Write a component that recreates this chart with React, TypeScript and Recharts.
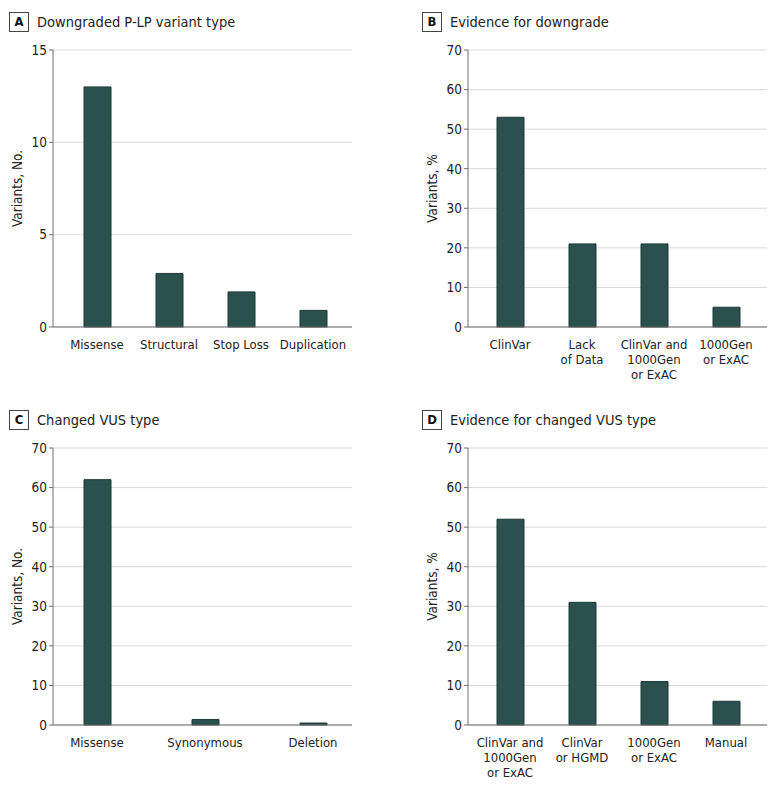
import React from "react";
import { BarChart, Bar, XAxis, YAxis, CartesianGrid } from "recharts";

// Panel A: downgraded P-LP variant type
const typeCatsA = ["Missense", "Structural", "Stop Loss", "Duplication"];
const typeCountsA = [13, 2.9, 1.9, 0.9];
const ticksA = [0, 5, 10, 15];

// Panel B: evidence for downgrade
const evidenceCatsB = ["ClinVar", "Lack\nof Data", "ClinVar and\n1000Gen\nor ExAC", "1000Gen\nor ExAC"];
const evidencePctB = [53, 21, 21, 5];

// Panel C: changed VUS type
const typeCatsC = ["Missense", "Synonymous", "Deletion"];
const typeCountsC = [62, 1.4, 0.5];

// Panel D: evidence for changed VUS type
const evidenceCatsD = ["ClinVar and\n1000Gen\nor ExAC", "ClinVar\nor HGMD", "1000Gen\nor ExAC", "Manual"];
const evidencePctD = [52, 31, 11, 6];

const ticks70 = [0, 10, 20, 30, 40, 50, 60, 70];

const FONT = '"DejaVu Sans Condensed", "DejaVu Sans", sans-serif';
const BAR_FILL = "#2b514f";
const BAR_STROKE = "#1d3937";
const AXIS = "#6f6f6f";
const GRID = "#d9d9d9";

const MultiLineTick = (props: any) => {
  const { x, y, payload } = props;
  const lines = String(payload.value).split("\n");
  return (
    <g transform={`translate(${x},${y})`}>
      <text textAnchor="middle" fill="#222" fontSize={13} fontFamily={FONT}>
        {lines.map((l, i) => (
          <tspan key={i} x={0} dy={i === 0 ? 14 : 15}>
            {l}
          </tspan>
        ))}
      </text>
    </g>
  );
};

interface PanelProps {
  letter: string;
  title: string;
  left: number;
  top: number;
  boxX: number;
  cats: string[];
  values: number[];
  ticks: number[];
  yLabel: string;
  padding: { left: number; right: number };
}

const Panel: React.FC<PanelProps> = ({ letter, title, left, top, boxX, cats, values, ticks, yLabel, padding }) => {
  const data = cats.map((c, i) => ({ name: c, value: values[i] }));
  return (
    <div style={{ position: "absolute", left, top, width: 390, height: 390 }}>
      <div
        style={{
          position: "absolute",
          left: boxX,
          top: 12,
          width: 18,
          height: 18,
          border: "1px solid #444",
          fontFamily: FONT,
          fontWeight: "bold",
          fontSize: 13,
          lineHeight: "18px",
          textAlign: "center",
          color: "#111",
        }}
      >
        {letter}
      </div>
      <div
        style={{
          position: "absolute",
          left: boxX + 28,
          top: 11,
          fontFamily: FONT,
          fontSize: 14.5,
          lineHeight: "22px",
          color: "#222",
          whiteSpace: "nowrap",
        }}
      >
        {title}
      </div>
      <div style={{ position: "absolute", left: 0, top: 0 }}>
        <BarChart
          width={390}
          height={390}
          data={data}
          margin={{ top: 50, right: 38, left: 13, bottom: 3 }}
          barSize={27}
        >
          <CartesianGrid vertical={false} stroke={GRID} />
          <XAxis
            dataKey="name"
            interval={0}
            tickLine={false}
            axisLine={{ stroke: AXIS }}
            tick={<MultiLineTick />}
            height={60}
            padding={padding}
          />
          <YAxis
            width={40}
            domain={[ticks[0], ticks[ticks.length - 1]]}
            ticks={ticks}
            interval={0}
            tickSize={4}
            tickMargin={2}
            tickLine={{ stroke: AXIS }}
            axisLine={{ stroke: AXIS }}
            tick={{ fill: "#222", fontSize: 13.5, fontFamily: FONT }}
            label={{
              value: yLabel,
              angle: -90,
              position: "insideLeft",
              offset: 4,
              style: { textAnchor: "middle", fill: "#222", fontSize: 13.5, fontFamily: FONT },
            }}
          />
          <Bar dataKey="value" fill={BAR_FILL} stroke={BAR_STROKE} strokeWidth={1} isAnimationActive={false} />
        </BarChart>
      </div>
    </div>
  );
};

export default function App() {
  return (
    <div style={{ position: "absolute", left: 0, top: 0, width: 780, height: 789, background: "#fff" }}>
      <Panel
        letter="A"
        title="Downgraded P-LP variant type"
        left={0}
        top={0}
        boxX={9}
        cats={typeCatsA}
        values={typeCountsA}
        ticks={ticksA}
        yLabel="Variants, No."
        padding={{ left: 8, right: 3 }}
      />
      <Panel
        letter="B"
        title="Evidence for downgrade"
        left={415}
        top={0}
        boxX={7}
        cats={evidenceCatsB}
        values={evidencePctB}
        ticks={ticks70}
        yLabel="Variants, %"
        padding={{ left: 6, right: 5 }}
      />
      <Panel
        letter="C"
        title="Changed VUS type"
        left={0}
        top={398}
        boxX={9}
        cats={typeCatsC}
        values={typeCountsC}
        ticks={ticks70}
        yLabel="Variants, No."
        padding={{ left: -10, right: -15 }}
      />
      <Panel
        letter="D"
        title="Evidence for changed VUS type"
        left={415}
        top={398}
        boxX={7}
        cats={evidenceCatsD}
        values={evidencePctD}
        ticks={ticks70}
        yLabel="Variants, %"
        padding={{ left: 6, right: 5 }}
      />
    </div>
  );
}
